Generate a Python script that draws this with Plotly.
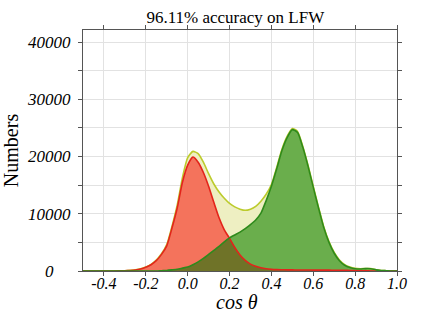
import numpy as np
import plotly.graph_objects as go

# cos(theta) sample positions
cos_theta = [-0.500, -0.450, -0.400, -0.350, -0.300, -0.275, -0.250, -0.225, -0.200, -0.175,
             -0.150, -0.125, -0.100, -0.075, -0.050, -0.025, 0.000, 0.025, 0.050, 0.075,
             0.100, 0.125, 0.150, 0.175, 0.200, 0.225, 0.250, 0.275, 0.300, 0.325,
             0.350, 0.375, 0.400, 0.425, 0.450, 0.475, 0.500, 0.525, 0.550, 0.575,
             0.600, 0.625, 0.650, 0.675, 0.700, 0.725, 0.750, 0.775, 0.800, 0.825,
             0.850, 0.875, 0.900, 0.925, 0.950, 0.975, 1.000]

# negative pairs (red)
negative_pairs = [0, 0, 0, 0, 50, 100, 180, 350, 650, 1100,
                  1800, 2900, 4400, 7500, 11000, 15500, 18500, 19900, 19000, 17200,
                  14800, 12000, 9300, 7200, 5700, 4100, 2800, 1850, 1200, 820,
                  560, 390, 290, 240, 220, 200, 190, 180, 170, 165,
                  160, 155, 150, 145, 140, 130, 120, 90, 60, 40,
                  20, 10, 0, 0, 0, 0, 0]

# positive pairs (green)
positive_pairs = [0, 0, 0, 0, 0, 0, 0, 0, 0, 0,
                  0, 50, 100, 200, 300, 500, 700, 1100, 1600, 2200,
                  2900, 3600, 4300, 5100, 5800, 6300, 6800, 7400, 8100, 8900,
                  10100, 12300, 14800, 17800, 21000, 23300, 24700, 24200, 21600, 18300,
                  14600, 11000, 7600, 5000, 3100, 1800, 1000, 600, 400, 350,
                  420, 400, 200, 100, 50, 0, 0]

# all pairs (yellow)
all_pairs = [0, 0, 0, 0, 50, 110, 200, 380, 700, 1150,
             1900, 3000, 4600, 7800, 11500, 16300, 19800, 20900, 20500, 19000,
             17000, 15200, 13800, 12700, 11800, 11200, 10800, 10600, 10800, 11300,
             12200, 13400, 15100, 18040, 21220, 23500, 24890, 24380, 21770, 18465,
             14760, 11155, 7750, 5145, 3240, 1930, 1120, 690, 460, 390,
             440, 410, 200, 100, 50, 0, 0]

x_ticks = [-0.4, -0.2, 0.0, 0.2, 0.4, 0.6, 0.8, 1.0]
x_tick_text = ["-0.4", "-0.2", "0.0", "0.2", "0.4", "0.6", "0.8", "1.0"]
y_ticks = [0, 5000, 10000, 15000, 20000, 25000, 30000, 35000, 40000]
y_tick_text = ["0\u00a0\u00a0\u00a0\u00a0", "", "10000", "", "20000", "", "30000", "", "40000"]

x = np.array(cos_theta)
neg = np.array(negative_pairs)
pos = np.array(positive_pairs)
tot = np.array(all_pairs)
overlap = np.minimum(neg, pos)

fig = go.Figure()

def fill_trace(y, color):
    fig.add_trace(go.Scatter(x=x, y=y, mode="lines", line=dict(width=0, shape="spline", smoothing=0.6),
                             fill="tozeroy", fillcolor=color, hoverinfo="skip", showlegend=False))

def line_trace(y, color, w=1.6):
    fig.add_trace(go.Scatter(x=x, y=y, mode="lines", line=dict(width=w, color=color, shape="spline", smoothing=0.6),
                             hoverinfo="skip", showlegend=False))

fill_trace(tot, "#eeefc2")
fill_trace(pos, "#6aae4c")
fill_trace(neg, "#f4735c")
fill_trace(overlap, "#6f7328")
line_trace(tot, "#bccb2c")
line_trace(neg, "#e3241b")
line_trace(pos, "#2e8a1c")

serif = "Liberation Serif"
fig.update_layout(
    width=435, height=319,
    margin=dict(l=83, r=38, t=30, b=48, autoexpand=False),
    paper_bgcolor="white", plot_bgcolor="white",
    title=dict(text="96.11% accuracy on LFW", x=0.541, xanchor="center", y=0.947, yanchor="middle",
               yref="container", font=dict(family=serif, size=17, color="black")),
    font=dict(family=serif, color="black"),
    annotations=[dict(text="cos θ", xref="paper", yref="paper", x=0.49, y=-0.13,
                      xanchor="center", yanchor="middle", showarrow=False,
                      font=dict(family=serif, size=20, style="italic", color="black"))],
)
fig.update_xaxes(
    range=[-0.5, 1.0], tickvals=x_ticks, ticktext=x_tick_text, automargin=False,
    tickfont=dict(family=serif, size=16, style="italic", color="black"),
    ticks="outside", ticklen=4, tickcolor="#555555", showline=True, linecolor="#555555", linewidth=1.2,
    mirror="ticks", showgrid=True, gridcolor="#e2e2e2", gridwidth=1, zeroline=False,
    ticklabelstandoff=-6,
)
fig.update_yaxes(
    range=[0, 42100], tickvals=y_ticks, ticktext=y_tick_text, automargin=False,
    tickfont=dict(family=serif, size=17, style="italic", color="black"),
    ticks="outside", ticklen=4, tickcolor="#555555", showline=True, linecolor="#555555", linewidth=1.2,
    mirror="ticks", showgrid=True, gridcolor="#e2e2e2", gridwidth=1, zeroline=False,
    ticklabelstandoff=4,
    title=dict(text="Numbers", font=dict(family=serif, size=20, color="black"), standoff=4),
)

fig.write_html("out.html")
